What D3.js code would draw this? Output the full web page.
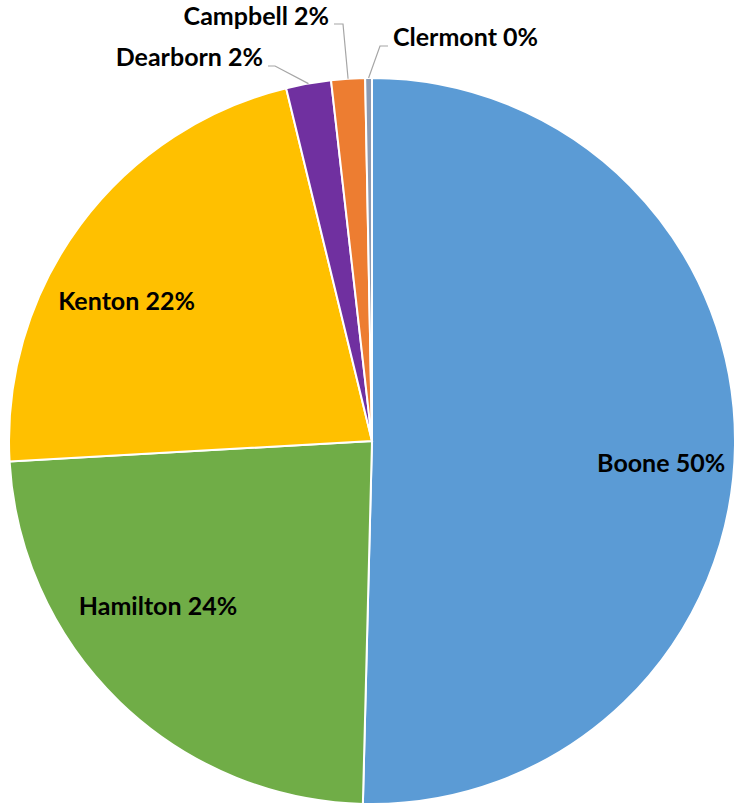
<!DOCTYPE html>
<html>
<head>
<meta charset="utf-8">
<script src="https://cdn.jsdelivr.net/npm/d3@7"></script>
<style>
  body { margin: 0; background: #fff; }
  .lbl { font-family: Lato, "Liberation Sans", sans-serif; font-weight: bold; fill: #000; }
</style>
</head>
<body>
<div id="chart"></div>
<script>
// county shares (percent)
const counties = ['Boone', 'Hamilton', 'Kenton', 'Dearborn', 'Campbell', 'Clermont'];
const shares = [50.4, 23.7, 22.1, 2.0, 1.5, 0.3];
const colors = ['#5B9BD5', '#70AD47', '#FFC000', '#7030A0', '#ED7D31', '#8C9BB3'];

// label placement: inside labels get a nudge from the centroid,
// outside ones get an elbow point and a text anchor point
const inside = [true, true, true, false, false, false];
const labelNudge = [[6, 19], [-17, -38], [-18, 29], [0, 0], [0, 0], [0, 0]];
const elbow = [null, null, null, [-97, -375], [-29, -417], [8, -395]];
const textAt = [null, null, null, [-109, -375], [-43, -416], [21, -395]];

let width = 735,
  height = 805,
  radius = 363,
  cx = 372,
  cy = 441;

let data = counties.map((c, i) => ({ name: c, value: shares[i], color: colors[i], i: i }));

let pie = d3.pie()
  .sort(null)
  .value(function(d) { return d.value; });

let arc = d3.arc()
  .innerRadius(0)
  .outerRadius(radius);

let labelArc = d3.arc()
  .innerRadius(radius * 0.78)
  .outerRadius(radius * 0.78);

let svg = d3.select("#chart").append("svg")
  .attr("width", width)
  .attr("height", height)
  .append("g")
  .attr("transform", "translate(" + cx + "," + cy + ")");

let arcs = pie(data);

svg.selectAll(".slice")
  .data(arcs)
  .enter().append("path")
  .attr("class", "slice")
  .attr("fill", d => d.data.color)
  .attr("stroke", "#fff")
  .attr("stroke-width", 2)
  .attr("d", arc);

let fmt = d => d.data.name + " " + Math.round(d.data.value) + "%";

// inside labels
svg.selectAll(".inLbl")
  .data(arcs.filter(d => inside[d.data.i]))
  .enter().append("text")
  .attr("class", "lbl inLbl")
  .attr("font-size", 25)
  .attr("text-anchor", "middle")
  .attr("dy", "0.35em")
  .attr("transform", function(d) {
    let c = labelArc.centroid(d), n = labelNudge[d.data.i];
    return "translate(" + (c[0] + n[0]) + "," + (c[1] + n[1]) + ")";
  })
  .text(fmt);

// outside labels with leader lines
let outs = arcs.filter(d => !inside[d.data.i]);
let edge = d3.arc().innerRadius(radius).outerRadius(radius);

svg.selectAll(".leader")
  .data(outs)
  .enter().append("polyline")
  .attr("class", "leader")
  .attr("fill", "none")
  .attr("stroke", "#A6A6A6")
  .attr("stroke-width", 1.2)
  .attr("points", function(d) {
    let p = edge.centroid(d), e = elbow[d.data.i], t = textAt[d.data.i];
    let tx = t[0] + (t[0] < e[0] ? 5 : -5);
    return [p, e, [tx, e[1]]].map(q => q.join(",")).join(" ");
  });

svg.selectAll(".outLbl")
  .data(outs)
  .enter().append("text")
  .attr("class", "lbl outLbl")
  .attr("font-size", 25)
  .attr("text-anchor", d => textAt[d.data.i][0] < elbow[d.data.i][0] ? "end" : "start")
  .attr("x", d => textAt[d.data.i][0])
  .attr("y", d => textAt[d.data.i][1])
  .text(fmt);
</script>
</body>
</html>
